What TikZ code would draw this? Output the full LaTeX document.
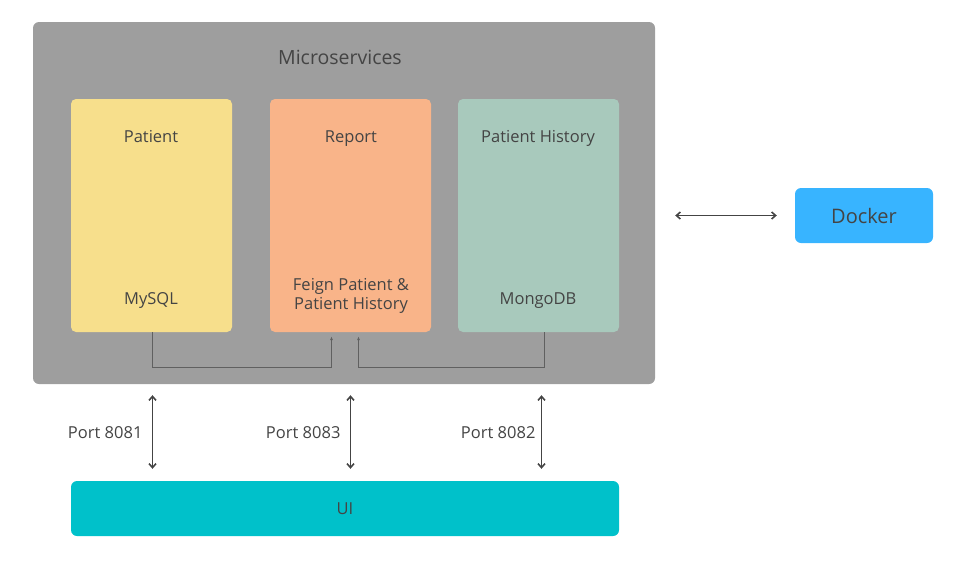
\documentclass[tikz,border=0pt]{standalone}
\usepackage{fontspec}
\setmainfont{Open Sans}
\usetikzlibrary{arrows.meta}

\definecolor{msgray}{HTML}{9E9E9E}
\definecolor{patyellow}{HTML}{F7DF8C}
\definecolor{reporange}{HTML}{F9B489}
\definecolor{histgreen}{HTML}{A8C9BC}
\definecolor{dockblue}{HTML}{38B4FF}
\definecolor{uicyan}{HTML}{00C1CA}
\definecolor{inkgray}{HTML}{444444}

\tikzset{
    svcbox/.style={rounded corners=5pt, inner sep=0pt, minimum width=161pt, minimum height=233pt},
    lbl/.style={text=inkgray, font=\fontsize{16.5}{19}\selectfont, align=center, text height=12pt, text depth=3.5pt},
    link/.style={draw=inkgray!85, line width=1pt, -{Latex[length=4pt,width=3pt]}},
    port/.style={draw=inkgray, line width=1.6pt, {Straight Barb[length=4pt,width=7pt]}-{Straight Barb[length=4pt,width=7pt]}}
}

\begin{document}
\begin{tikzpicture}[x=1pt, y=-1pt]
        \useasboundingbox (0,0) rectangle (957,584);

        \node[fill=msgray, rounded corners=6pt, minimum width=622pt, minimum height=362pt] (ms) at (344,203) {};
        \node[lbl, font=\fontsize{19.5}{23}\selectfont, text height=14pt, text depth=4pt] (mst) at (340,59) {Microservices};

        \node[svcbox, fill=patyellow] (pat) at (151.5,215.5) {};
        \node[svcbox, fill=reporange] (rep) at (350.5,215.5) {};
        \node[svcbox, fill=histgreen] (hist) at (538.5,215.5) {};

        \node[lbl] (patt) at (151,138) {Patient};
        \node[lbl] (patdb) at (151,300) {MySQL};
        \node[lbl] (rept) at (351,138) {Report};
        \node[lbl, text height=, text depth=] (repf) at (351,296) {Feign Patient \&\\[0pt]Patient History};
        \node[lbl] (histt) at (538,138) {Patient History};
        \node[lbl] (histdb) at (538,300) {MongoDB};

        \node[fill=dockblue, rounded corners=6pt, minimum width=138pt, minimum height=55pt, text=inkgray, font=\fontsize{20}{24}\selectfont] (dock) at (864,215.5) {Docker};
        \node[fill=uicyan, rounded corners=6pt, minimum width=548pt, minimum height=55pt, text=inkgray, font=\fontsize{16.5}{19}\selectfont] (ui) at (345,508.5) {UI};

        % feign calls
        \draw[link, shorten >=4pt] ([xshift=1pt]pat.south) -- ++(0,35) -| ([xshift=-19pt]rep.south);
        \draw[link, shorten >=4pt] ([xshift=6pt]hist.south) -- ++(0,35) -| ([xshift=8pt]rep.south);

        % ports
        \draw[port, shorten <=11pt, shorten >=12pt] ([xshift=1pt]pat.south |- ms.south) -- ([xshift=1pt]pat.south |- ui.north);
        \draw[port, shorten <=11pt, shorten >=12pt] (rep.south |- ms.south) -- (rep.south |- ui.north);
        \draw[port, shorten <=11pt, shorten >=12pt] ([xshift=3pt]hist.south |- ms.south) -- ([xshift=3pt]hist.south |- ui.north);
        \node[lbl, anchor=east] (p1) at (146,434) {Port 8081};
        \node[lbl, anchor=east] (p3) at (344,434) {Port 8083};
        \node[lbl, anchor=east] (p2) at (539,434) {Port 8082};

        \draw[port, shorten <=20pt, shorten >=18pt] (ms.east |- dock.west) -- (dock.west);
    \end{tikzpicture}
\end{document}
